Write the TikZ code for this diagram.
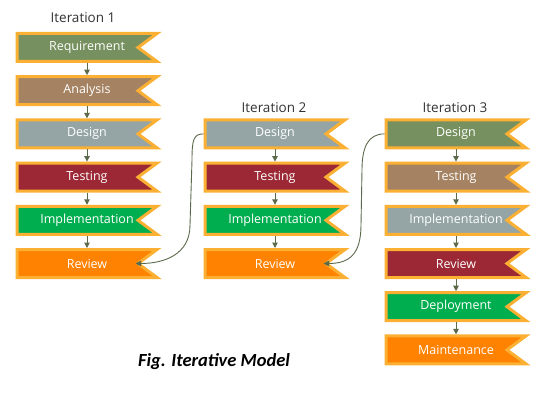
\documentclass[tikz,border=0pt]{standalone}
\usepackage{fontspec}
\setmainfont{Open Sans}
\newfontfamily\capfont{Carlito}
\usetikzlibrary{arrows.meta,backgrounds,calc}
\definecolor{cborder}{HTML}{FBB034}
\definecolor{colive}{HTML}{76905F}
\definecolor{cbrown}{HTML}{A58262}
\definecolor{cgray}{HTML}{95A5A6}
\definecolor{cred}{HTML}{9B2834}
\definecolor{cgreen}{HTML}{00AE50}
\definecolor{corange}{HTML}{FF8200}
\definecolor{carrow}{HTML}{5C6A4C}
\definecolor{ctitle}{HTML}{333333}
\tikzset{
  flagnode/.style={rectangle, minimum width=140pt, minimum height=28pt, inner sep=0pt, outer sep=0pt,
    text=white, font=\fontsize{12.5}{14}\selectfont},
  flagshape/.style={draw=cborder, line width=3pt, line join=miter},
  flow/.style={draw=carrow, line width=1pt, -{Triangle[width=5.5pt,length=5.5pt]}, shorten <=1.5pt, shorten >=1.5pt},
  loopback/.style={draw=carrow, line width=0.9pt, -{Triangle[width=5.5pt,length=5.5pt]}},
  itlabel/.style={text=ctitle, font=\fontsize{13.5}{15}\selectfont, inner sep=0pt}
}
\newcommand\flagbox[5]{%
  \node[flagnode] (#1) at (#2,#3) {#5};
  \begin{scope}[on background layer]
    \path[flagshape, fill=#4] (#1.north west) -- (#1.north east) -- ($(#1.east)+(-19,0)$) -- (#1.south east) -- (#1.south west) -- cycle;
  \end{scope}
  \coordinate (#1tip) at ($(#1.east)+(-21.5,0)$);
}
\begin{document}
\begin{tikzpicture}[x=1pt,y=-1pt]
\useasboundingbox (0,0) rectangle (540,403);
% Iteration 1
\node[itlabel] (it1) at (83,18) {Iteration 1};
\flagbox{a1}{87}{47.5}{colive}{Requirement}
\flagbox{a2}{87}{90.7}{cbrown}{Analysis}
\flagbox{a3}{87}{133.9}{cgray}{Design}
\flagbox{a4}{87}{177.1}{cred}{Testing}
\flagbox{a5}{87}{220.3}{cgreen}{Implementation}
\flagbox{a6}{87}{263.5}{corange}{Review}
% Iteration 2
\node[itlabel] (it2) at (274,108) {Iteration 2};
\flagbox{b1}{275}{133.9}{cgray}{Design}
\flagbox{b2}{275}{177.1}{cred}{Testing}
\flagbox{b3}{275}{220.3}{cgreen}{Implementation}
\flagbox{b4}{275}{263.5}{corange}{Review}
% Iteration 3
\node[itlabel] (it3) at (455,108) {Iteration 3};
\flagbox{c1}{456}{133.9}{colive}{Design}
\flagbox{c2}{456}{177.1}{cbrown}{Testing}
\flagbox{c3}{456}{220.3}{cgray}{Implementation}
\flagbox{c4}{456}{263.5}{cred}{Review}
\flagbox{c5}{456}{306.7}{cgreen}{Deployment}
\flagbox{c6}{456}{349.9}{corange}{Maintenance}
% flows
\foreach \p/\q in {a1/a2,a2/a3,a3/a4,a4/a5,a5/a6,b1/b2,b2/b3,b3/b4,c1/c2,c2/c3,c3/c4,c4/c5,c5/c6}
  \draw[flow] (\p.south) -- (\q.north);
% loop-backs
\draw[loopback] ($(b1.west)+(-1.5,0)$) .. controls +(-10,0) and +(0,-20) .. (192,160) -- (190,225) .. controls +(0,30) and +(28,0) .. (a6tip);
\draw[loopback] ($(c1.west)+(-1.5,0)$) .. controls +(-17,0) and +(0,-22) .. (362,170) -- (361,225) .. controls +(0,30) and +(25,0) .. (b4tip);
% caption
\node[font=\capfont\bfseries\itshape\fontsize{18.5}{20}\selectfont, inner sep=0pt] (cap) at (214,362) {Fig. Iterative Model};
\end{tikzpicture}
\end{document}
